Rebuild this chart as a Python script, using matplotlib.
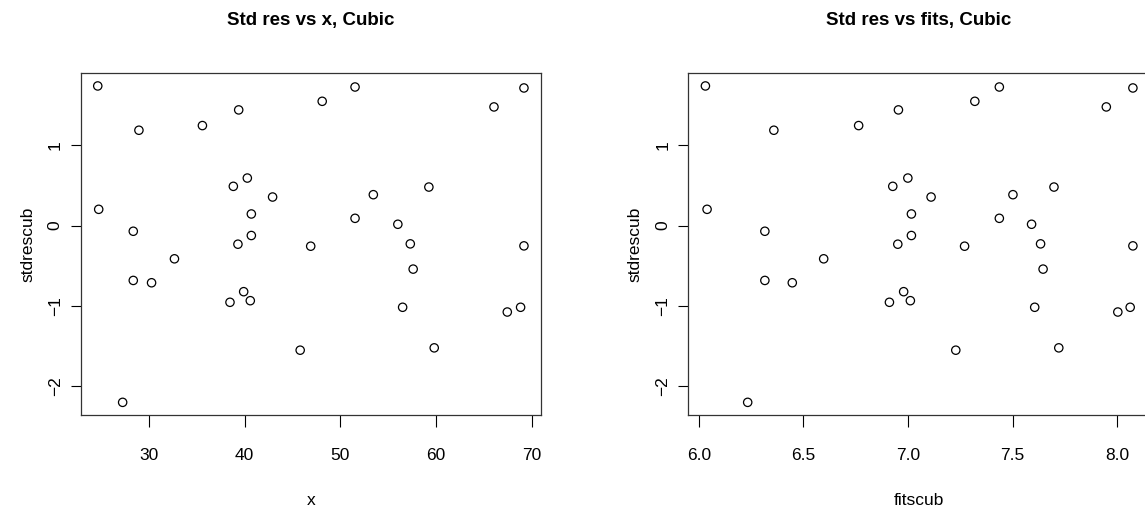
import matplotlib
matplotlib.use("Agg")
import matplotlib.pyplot as plt
from matplotlib import font_manager

names = {f.name for f in font_manager.fontManager.ttflist}
narrow = "Liberation Sans Narrow" if "Liberation Sans Narrow" in names else "Liberation Sans"
plt.rcParams["font.family"] = [narrow, "DejaVu Sans"]

# Data
x = [24.66, 28.96, 35.59, 39.38, 48.10, 24.76, 28.37, 32.67, 28.37, 30.28,
     38.82, 40.28, 42.92, 40.70, 40.70, 39.30, 46.90, 39.90, 38.47, 40.59,
     45.80, 27.26, 51.53, 69.17, 66.04, 59.24, 53.44, 51.53, 56.00, 57.30,
     69.17, 57.60, 56.50, 67.43, 68.82, 59.80]
fitscub = [6.032, 6.359, 6.764, 6.954, 7.319, 6.040, 6.316, 6.597, 6.316, 6.447,
           6.927, 6.999, 7.110, 7.016, 7.016, 6.951, 7.270, 6.979, 6.911, 7.011,
           7.228, 6.234, 7.436, 8.074, 7.947, 7.697, 7.501, 7.436, 7.590, 7.633,
           8.074, 7.645, 7.605, 8.002, 8.061, 7.720]
stdrescub = [1.737, 1.186, 1.244, 1.439, 1.546, 0.202, -0.071, -0.414, -0.683, -0.712,
             0.488, 0.591, 0.355, 0.144, -0.124, -0.232, -0.257, -0.823, -0.955, -0.935,
             -1.551, -2.200, 1.724, 1.712, 1.476, 0.479, 0.384, 0.090, 0.016, -0.228,
             -0.253, -0.542, -1.017, -1.076, -1.017, -1.522]

x_ticks = [30, 40, 50, 60, 70]
fit_ticks = [6.0, 6.5, 7.0, 7.5, 8.0]
y_ticks = [-2, -1, 0, 1]

W, H = 1145, 518
fig = plt.figure(figsize=(W / 100, H / 100), dpi=100)

def make_axes(left_px, right_px, top_px, bottom_px):
    return fig.add_axes([left_px / W, 1 - bottom_px / H,
                         (right_px - left_px) / W, (bottom_px - top_px) / H])

def r_expand(vals):
    lo, hi = min(vals), max(vals)
    d = (hi - lo) * 0.04
    return lo - d, hi + d

panels = [
    (make_axes(80.7, 541, 73.3, 415), x, x_ticks, "x", "Std res vs x, Cubic", 310.9, ["30", "40", "50", "60", "70"]),
    (make_axes(688.3, 1150, 73.3, 415), fitscub, fit_ticks, "fitscub", "Std res vs fits, Cubic", 919, ["6.0", "6.5", "7.0", "7.5", "8.0"]),
]

for ax, xv, xt, xl, title, cx, xtl in panels:
    ax.scatter(xv, stdrescub, s=36, facecolors="none", edgecolors="black", linewidths=0.9)
    ax.set_xlim(*r_expand(xv))
    ax.set_ylim(*r_expand(stdrescub))
    ax.set_xticks(xt)
    ax.set_xticklabels(xtl)
    ax.set_yticks(y_ticks)
    ax.set_yticklabels(["\u22122", "\u22121", "0", "1"], rotation=90, va="center")
    ax.tick_params(axis="x", length=8.5, width=0.8, pad=15, labelsize=12.5)
    ax.tick_params(axis="y", length=7, width=0.8, pad=6, labelsize=12.5)
    for sp in ax.spines.values():
        sp.set_linewidth(0.9)
        sp.set_color("#333333")
    ax.set_xlabel(xl, fontsize=12.5, labelpad=22)
    ax.set_ylabel("stdrescub", fontsize=12.5, labelpad=9)
    fig.text(cx / W, 1 - 21 / H, title, ha="center", va="center",
             fontsize=13.5, fontweight="bold")

fig.savefig("out.png", dpi=100)
